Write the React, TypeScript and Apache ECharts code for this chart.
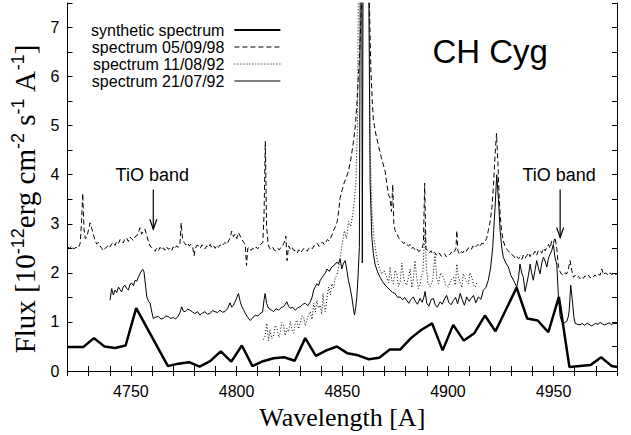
import React, { useEffect, useRef } from 'react';
import * as echarts from 'echarts';

const seriesNames = ['synthetic spectrum', 'spectrum 05/09/98', 'spectrum 11/08/92', 'spectrum 21/07/92'];

const synthetic: [number, number][] = [
  [4720, 0.49], [4727.5, 0.49], [4732.5, 0.67], [4737.5, 0.5], [4742.5, 0.47], [4747.5, 0.52],
  [4752.5, 1.28], [4767.5, 0.1], [4772.5, 0.15], [4777.5, 0.18], [4782.5, 0.09], [4787.5, 0.2],
  [4792.5, 0.4], [4797.5, 0.19], [4802.5, 0.52], [4807.5, 0.1], [4812.5, 0.2], [4817.5, 0.26],
  [4822.5, 0.28], [4827.5, 0.21], [4832.5, 0.67], [4837.5, 0.31], [4842.5, 0.42], [4847.5, 0.5],
  [4852.5, 0.36], [4857.5, 0.32], [4862.5, 0.24], [4867.5, 0.27], [4872.5, 0.44], [4877.5, 0.44],
  [4882.5, 0.67], [4887.5, 0.84], [4892.5, 0.97], [4897.5, 0.42], [4902.5, 0.94], [4907.5, 0.62],
  [4912.5, 0.77], [4917.5, 1.13], [4922.5, 0.81], [4932.5, 1.7], [4937.5, 1.07], [4942.5, 1.03],
  [4947.5, 0.79], [4952.5, 1.51], [4957.5, 0.08], [4962.5, 0.1], [4967.5, 0.12], [4972.5, 0.28],
  [4977.5, 0.1], [4980, 0.08],
];

const spec980905: [number, number][] = [
  [4720, 2.53], [4721, 2.5], [4722, 2.55], [4723, 2.49], [4724, 2.52], [4725, 2.5], [4726, 2.6],
  [4726.6, 3.0], [4727.2, 3.62], [4727.8, 2.9], [4728.4, 2.7], [4729.1, 2.72], [4729.8, 2.85],
  [4730.7, 3.02], [4731.4, 2.92], [4732.2, 2.79], [4733, 2.66], [4733.8, 2.59], [4734.6, 2.62],
  [4735.4, 2.55], [4736.2, 2.5], [4737, 2.45], [4737.8, 2.5], [4738.5, 2.52], [4739.3, 2.57],
  [4740.1, 2.53], [4740.9, 2.59], [4741.7, 2.62], [4742.5, 2.56], [4743.3, 2.64], [4744.1, 2.6],
  [4744.9, 2.68], [4745.6, 2.65], [4746.4, 2.61], [4747.2, 2.7], [4748, 2.71], [4748.8, 2.64],
  [4749.6, 2.73], [4750.4, 2.69], [4751.2, 2.66], [4752, 2.74], [4752.7, 2.75], [4753.5, 2.82],
  [4754.3, 2.92], [4755.1, 2.79], [4755.8, 2.84], [4756.6, 2.89], [4757.4, 2.78], [4758.2, 2.65],
  [4759, 2.55], [4759.8, 2.52], [4760.6, 2.48], [4761.4, 2.44], [4762.2, 2.5], [4763, 2.45],
  [4763.8, 2.52], [4764.6, 2.47], [4765.3, 2.51], [4766.1, 2.46], [4766.9, 2.53], [4767.7, 2.48],
  [4768.5, 2.5], [4769.3, 2.45], [4770, 2.53], [4770.8, 2.49], [4771.6, 2.55], [4772.4, 2.52],
  [4773.2, 2.58], [4773.8, 3.02], [4774.4, 2.7], [4775.2, 2.62], [4776, 2.57], [4776.8, 2.61],
  [4777.6, 2.55], [4778.4, 2.58], [4779.2, 2.53], [4779.9, 2.35], [4780.5, 2.5], [4781.2, 2.56],
  [4782, 2.55], [4782.8, 2.5], [4783.6, 2.57], [4784.3, 2.53], [4785.1, 2.49], [4785.9, 2.55],
  [4786.7, 2.52], [4787.5, 2.58], [4788.3, 2.51], [4789.1, 2.55], [4789.9, 2.5], [4790.6, 2.56],
  [4791.4, 2.52], [4792.2, 2.57], [4793, 2.54], [4793.8, 2.59], [4794.6, 2.62], [4795.4, 2.58],
  [4796.2, 2.65], [4797, 2.72], [4797.7, 2.85], [4798.5, 2.74], [4799.3, 2.79], [4800.1, 2.7],
  [4800.9, 2.82], [4801.7, 2.75], [4802.5, 2.69], [4803.3, 2.62], [4804.1, 2.59], [4804.7, 2.15],
  [4805.3, 2.5], [4806.1, 2.52], [4806.9, 2.46], [4807.6, 2.5], [4808.4, 2.48], [4809.2, 2.53],
  [4810, 2.49], [4810.8, 2.55], [4811.6, 2.59], [4812.4, 2.62], [4813, 3.2], [4813.6, 4.68],
  [4814.2, 2.95], [4814.9, 2.6], [4815.6, 2.5], [4816.3, 2.48], [4817.1, 2.52], [4817.9, 2.46],
  [4818.6, 2.45], [4819.4, 2.5], [4820.2, 2.47], [4821, 2.52], [4821.8, 2.56], [4822.6, 2.62],
  [4823.3, 2.75], [4823.9, 2.25], [4824.6, 2.55], [4825.4, 2.48], [4826.2, 2.52], [4827, 2.46],
  [4827.8, 2.45], [4828.6, 2.4], [4829.4, 2.47], [4830.2, 2.41], [4831, 2.45], [4831.8, 2.5],
  [4832.6, 2.48], [4833.4, 2.44], [4834.2, 2.5], [4835, 2.52], [4835.8, 2.49], [4836.6, 2.55],
  [4837.4, 2.55], [4838.2, 2.6], [4839, 2.54], [4839.8, 2.59], [4840.6, 2.63], [4841.4, 2.58],
  [4842.2, 2.62], [4843, 2.68], [4843.8, 2.65], [4844.6, 2.72], [4845.4, 2.8], [4846.1, 2.89],
  [4846.9, 2.95], [4847.7, 3.06], [4848.4, 3.3], [4849, 3.53], [4850, 3.7], [4851, 3.85],
  [4852, 3.95], [4852.9, 4.07], [4854, 4.3], [4855.3, 4.67], [4856.2, 5.0], [4856.9, 5.41],
  [4857.5, 5.9], [4858.1, 6.35], [4858.7, 7.0], [4859.2, 7.56], [4860, 9.5], [4862.2, 9.5],
  [4862.8, 7.56], [4863.5, 6.2], [4864.2, 5.5], [4864.7, 5.14], [4865.8, 4.85], [4867.1, 4.6],
  [4868.5, 4.35], [4870.3, 4.07], [4871, 3.85], [4871.8, 3.6], [4872.6, 3.53], [4873.3, 3.25],
  [4873.9, 3.8], [4874.4, 3.0], [4875, 2.86], [4875.8, 2.8], [4876.6, 2.72], [4877.4, 2.68],
  [4878.2, 2.64], [4879, 2.6], [4879.7, 2.62], [4880.5, 2.58], [4881.3, 2.55], [4882.1, 2.58],
  [4882.8, 2.5], [4883.6, 2.52], [4884.4, 2.47], [4885.2, 2.5], [4886, 2.44], [4886.8, 2.45],
  [4887.6, 2.48], [4888.4, 2.6], [4889, 3.83], [4889.6, 2.5], [4890.4, 2.44], [4891.2, 2.41],
  [4892, 2.45], [4892.8, 2.38], [4893.6, 2.42], [4894.4, 2.38], [4895.2, 2.35], [4896, 2.4],
  [4896.8, 2.34], [4897.6, 2.35], [4898.4, 2.39], [4899.2, 2.33], [4900, 2.38], [4900.8, 2.37],
  [4901.6, 2.42], [4902.4, 2.39], [4903.2, 2.45], [4903.8, 2.5], [4904.2, 2.86], [4904.7, 2.45],
  [4905.5, 2.38], [4906.3, 2.43], [4907.1, 2.41], [4907.9, 2.47], [4908.7, 2.44], [4909.5, 2.5],
  [4910.3, 2.52], [4911.1, 2.48], [4911.9, 2.55], [4912.7, 2.51], [4913.5, 2.55], [4914.3, 2.58],
  [4915.1, 2.53], [4915.9, 2.6], [4916.7, 2.59], [4917.5, 2.64], [4918.3, 2.7], [4919.1, 2.86],
  [4920, 3.05], [4920.8, 3.33], [4921.6, 3.8], [4922.3, 4.4], [4923, 4.84], [4923.7, 4.2],
  [4924.2, 3.6], [4924.7, 3.19], [4925.4, 2.85], [4926.2, 2.65], [4927, 2.55], [4927.8, 2.48],
  [4928.6, 2.45], [4929.4, 2.4], [4930.2, 2.37], [4931, 2.35], [4931.8, 2.3], [4932.6, 2.34],
  [4933.4, 2.29], [4934.1, 2.32], [4934.9, 2.27], [4935.7, 2.36], [4936.5, 2.3], [4937.3, 2.35],
  [4938.1, 2.41], [4938.9, 2.33], [4939.6, 2.4], [4940.4, 2.38], [4941.2, 2.44], [4942, 2.36],
  [4942.8, 2.46], [4943.6, 2.45], [4944.4, 2.4], [4945.2, 2.5], [4946, 2.45], [4946.8, 2.52],
  [4947.6, 2.58], [4948.3, 2.5], [4949.1, 2.65], [4949.9, 2.6], [4950.7, 2.72], [4951.5, 2.5],
  [4952.3, 2.11], [4953.1, 2.02], [4953.9, 1.97], [4954.6, 1.95], [4955.4, 2.0], [4956.2, 1.98],
  [4957, 2.08], [4957.8, 2.25], [4958.6, 2.05], [4959.4, 1.91], [4960.2, 1.95], [4961, 1.9],
  [4961.8, 1.93], [4962.5, 1.88], [4963.3, 1.92], [4964.1, 1.89], [4964.9, 1.94], [4965.7, 1.91],
  [4966.5, 1.95], [4967.3, 1.9], [4968.1, 1.93], [4968.8, 1.91], [4969.6, 1.96], [4970.4, 1.92],
  [4971.2, 1.97], [4972, 1.95], [4972.8, 2.08], [4973.6, 1.96], [4974.4, 2.0], [4975.2, 1.98],
  [4976, 1.95], [4976.8, 2.0], [4977.6, 1.96], [4978.4, 2.01], [4979.2, 1.97], [4980, 1.98],
];

const spec920811: [number, number][] = [
  [4812.7, 0.64], [4813.5, 0.71], [4814.3, 0.97], [4815.1, 0.62], [4815.8, 0.84], [4816.6, 0.66],
  [4817.5, 0.71], [4818.3, 0.93], [4819.1, 0.87], [4820, 0.68], [4820.6, 0.77], [4821.4, 0.99],
  [4822.2, 0.94], [4823, 0.72], [4823.8, 0.87], [4824.6, 0.8], [4825.4, 1.01], [4826.2, 0.84],
  [4827, 0.77], [4827.8, 0.98], [4828.5, 1.04], [4829.3, 0.86], [4830.1, 0.97], [4830.9, 1.12],
  [4831.7, 1.11], [4832.5, 0.92], [4833.3, 1.04], [4834.1, 1.15], [4834.9, 1.21], [4835.7, 1.05],
  [4836.5, 1.38], [4837.3, 1.2], [4838, 1.44], [4838.8, 1.28], [4839.6, 1.34], [4840.3, 1.15],
  [4840.9, 1.58], [4841.5, 1.3], [4842, 1.21], [4842.8, 1.5], [4843.6, 1.71], [4844.4, 1.55],
  [4845.1, 1.78], [4845.9, 1.7], [4846.7, 1.91], [4847.5, 1.95], [4848.3, 2.12], [4849.2, 2.35],
  [4850, 2.6], [4851, 2.86], [4852, 2.7], [4853, 3.05], [4854, 2.95], [4855, 3.2], [4855.8, 3.5],
  [4856.5, 3.9], [4857.2, 5.0], [4857.8, 9], [4862.5, 9], [4863.2, 4.5], [4864, 3.3], [4865, 2.7],
  [4866.3, 2.32], [4867.5, 2.1], [4868.7, 1.98], [4869.8, 2.05], [4871.1, 1.91], [4872, 1.8],
  [4872.6, 2.12], [4873.4, 1.85], [4874.2, 1.78], [4875, 2.05], [4875.8, 1.98], [4876.6, 1.72],
  [4877.4, 1.81], [4878.2, 2.2], [4879, 1.91], [4879.8, 1.8], [4880.5, 1.75], [4881.3, 1.9],
  [4882.1, 2.08], [4882.9, 1.7], [4883.6, 1.85], [4884.4, 2.25], [4885.2, 1.91], [4886, 1.68],
  [4886.8, 1.75], [4887.5, 1.95], [4888.1, 1.98], [4888.7, 2.5], [4889.2, 2.9], [4889.7, 2.2],
  [4890.5, 1.8], [4891.6, 1.71], [4892.8, 1.85], [4893.9, 2.38], [4894.7, 1.9], [4895.5, 1.78],
  [4896.6, 2.0], [4897.8, 1.91], [4899, 1.75], [4900.2, 1.71], [4901.4, 1.85], [4902.6, 1.91],
  [4903.5, 1.75], [4904.2, 2.18], [4905, 1.9], [4905.8, 1.81], [4906.6, 1.7], [4907.3, 1.98],
  [4908.5, 1.85], [4909.7, 1.78], [4910.5, 2.0], [4911.3, 1.91], [4912.1, 1.76], [4912.9, 1.71],
  [4913.8, 1.8],
];

const spec920721: [number, number][] = [
  [4740.1, 1.44], [4740.9, 1.68], [4741.7, 1.55], [4742.5, 1.65], [4743.3, 1.6], [4744.1, 1.71],
  [4744.9, 1.66], [4745.6, 1.61], [4746.4, 1.72], [4747.2, 1.75], [4748, 1.68], [4748.8, 1.65],
  [4749.6, 1.77], [4750.4, 1.79], [4751.2, 1.74], [4752, 1.85], [4752.8, 1.83], [4753.5, 1.91],
  [4754.3, 1.98], [4755.1, 2.05], [4755.7, 2.07], [4756.2, 2.02], [4756.9, 1.75], [4757.5, 1.51],
  [4758.3, 1.42], [4759.1, 1.38], [4759.9, 1.2], [4760.6, 1.07], [4761.8, 1.1], [4763, 1.11],
  [4764.2, 1.06], [4765.3, 1.07], [4766.5, 1.12], [4767.7, 1.11], [4768.8, 1.07], [4770, 1.09],
  [4771.2, 1.06], [4772.4, 1.12], [4773.3, 1.2], [4774, 1.31], [4774.8, 1.22], [4775.6, 1.21],
  [4776.8, 1.26], [4778, 1.24], [4779.2, 1.2], [4780.3, 1.17], [4781.5, 1.21], [4782.7, 1.14],
  [4783.8, 1.18], [4785, 1.21], [4786.2, 1.16], [4787.4, 1.17], [4788.6, 1.23], [4789.8, 1.21],
  [4791, 1.19], [4792.1, 1.24], [4793.3, 1.2], [4794.5, 1.21], [4795.7, 1.27], [4796.9, 1.39],
  [4797.7, 1.3], [4798.5, 1.34], [4799.7, 1.45], [4800.9, 1.58], [4801.7, 1.42], [4802.5, 1.31],
  [4803.3, 1.25], [4804.1, 1.17], [4805.2, 1.1], [4806.4, 1.03], [4807.6, 1.08], [4808.8, 1.14],
  [4810, 1.12], [4811.1, 1.17], [4812.3, 1.2], [4813, 1.45], [4813.5, 1.58], [4814.2, 1.38],
  [4815.1, 1.28], [4816.3, 1.25], [4817.5, 1.21], [4818.7, 1.27], [4819.9, 1.24], [4821.1, 1.29],
  [4822.2, 1.31], [4823, 1.36], [4823.8, 1.41], [4824.6, 1.32], [4825.4, 1.28], [4826.6, 1.3],
  [4827.8, 1.24], [4829, 1.29], [4830.1, 1.31], [4831.3, 1.36], [4832.5, 1.38], [4833.7, 1.33],
  [4834.9, 1.41], [4835.7, 1.5], [4836.5, 1.65], [4837.3, 1.72], [4838, 1.78], [4838.8, 1.74],
  [4839.6, 1.85], [4840.4, 1.9], [4841.2, 1.95], [4842, 2.0], [4842.8, 2.08], [4843.9, 2.03],
  [4845.1, 2.12], [4846.3, 2.16], [4847.5, 2.22], [4848.2, 2.18], [4849, 2.28], [4849.8, 2.08],
  [4850.6, 2.2], [4851.4, 2.25], [4852.2, 2.05], [4852.9, 1.85], [4853.7, 1.7], [4854.5, 1.51],
  [4855.2, 1.3], [4855.8, 1.14], [4856.4, 1.3], [4856.9, 1.51], [4857.5, 1.95], [4858.1, 2.52],
  [4858.6, 9], [4859.2, 9], [4859.5, 2.2], [4859.9, 9], [4862.4, 9], [4863.2, 3.8], [4864, 2.72],
  [4864.7, 2.4], [4865.5, 2.18], [4866.7, 2.02], [4867.9, 1.91], [4869.1, 1.82], [4870.3, 1.75],
  [4871.5, 1.7], [4872.6, 1.65], [4873.8, 1.6], [4875, 1.58], [4876.2, 1.5], [4877.4, 1.51],
  [4878.6, 1.45], [4879.5, 1.5], [4880.5, 1.44], [4881.5, 1.38], [4882.5, 1.46], [4883.6, 1.51],
  [4884.6, 1.42], [4885.6, 1.36], [4886.8, 1.48], [4887.8, 1.4], [4888.6, 1.5], [4889.2, 1.62],
  [4890, 1.38], [4891, 1.32], [4892, 1.45], [4893.1, 1.48], [4894, 1.35], [4895, 1.3],
  [4896.3, 1.41], [4897.3, 1.36], [4898.4, 1.47], [4899.4, 1.54], [4900.4, 1.4], [4901.5, 1.35],
  [4902.6, 1.44], [4903.6, 1.5], [4904.6, 1.37], [4905.8, 1.58], [4906.8, 1.45], [4907.8, 1.34],
  [4908.9, 1.51], [4910, 1.42], [4911, 1.48], [4912.1, 1.54], [4913.2, 1.39], [4914.4, 1.51],
  [4915.6, 1.46], [4916.8, 1.65], [4918, 1.7], [4919.1, 1.85], [4920.2, 2.1], [4921.2, 2.52],
  [4922.3, 3.33], [4923.1, 4.0], [4923.9, 3.5], [4924.7, 2.86], [4925.5, 2.5], [4926.2, 2.32],
  [4927.4, 2.2], [4928.6, 2.12], [4929.8, 1.95], [4931, 1.85], [4931.8, 1.78], [4932.6, 1.71],
  [4933.4, 1.9], [4934.1, 2.18], [4934.9, 2.0], [4935.7, 1.91], [4936.5, 1.62], [4937.3, 1.78],
  [4938.1, 1.95], [4938.9, 2.18], [4939.6, 2.0], [4940.4, 1.85], [4941.2, 2.05], [4942, 2.25],
  [4942.8, 2.1], [4943.6, 1.98], [4944.4, 2.2], [4945.2, 2.32], [4946, 2.24], [4946.8, 2.12],
  [4947.6, 2.3], [4948.3, 2.38], [4949.1, 2.45], [4949.9, 2.58], [4950.7, 2.3], [4951.5, 2.18],
  [4952.3, 1.51], [4953.1, 1.11], [4953.9, 1.0], [4954.6, 0.97], [4955.4, 0.99], [4956.2, 1.01],
  [4956.9, 1.1], [4957.4, 1.24], [4958.1, 1.75], [4958.6, 1.55], [4959, 1.38], [4959.6, 1.1],
  [4960.2, 0.97], [4961.4, 0.95], [4962.5, 0.94], [4963.6, 0.97], [4964.6, 0.93], [4965.7, 0.97],
  [4966.8, 0.95], [4967.8, 0.92], [4968.8, 0.94], [4969.9, 0.97], [4971, 0.95], [4972, 0.99],
  [4973.1, 0.96], [4974.1, 0.94], [4975.2, 0.96], [4976.3, 0.98], [4977.3, 0.95], [4978.6, 0.97],
  [4980, 0.97],
];

// annotations: [wavelength, arrow tail flux, arrow tip flux]
const tioArrows: [number, number, number][] = [
  [4760.6, 3.7, 2.89],
  [4953.1, 3.7, 2.72],
];
const titlePos: [number, number] = [4920, 6.51];

const SANS = 'Liberation Sans, Arial, sans-serif';
const SERIF = 'Liberation Serif, Times New Roman, serif';

export default function App() {
  const ref = useRef<HTMLDivElement>(null);
  useEffect(() => {
    const chart = echarts.init(ref.current!, null, { renderer: 'svg' });
    const axisCommon = {
      axisLine: { show: true, lineStyle: { color: '#000', width: 1 } },
      axisTick: { show: true, inside: true, length: 5, lineStyle: { color: '#000' } },
      splitLine: { show: false },
    };
    const option: any = {
      animation: false,
      backgroundColor: '#fff',
      grid: { left: 67.5, right: 14, top: 3, bottom: 60 },
      legend: {
        data: [
          { name: seriesNames[0] },
          { name: seriesNames[1], lineStyle: { width: 1 } },
          { name: seriesNames[2], lineStyle: { width: 1 } },
          { name: seriesNames[3], lineStyle: { width: 1 } },
        ],
        orient: 'vertical',
        left: 86,
        top: 17,
        align: 'right',
        itemWidth: 46,
        itemHeight: 10,
        itemGap: 1,
        itemStyle: { opacity: 0, borderWidth: 0 },
        textStyle: { fontFamily: SANS, fontSize: 16, color: '#000', lineHeight: 16, padding: [0, 5, 0, 0] },
      },
      xAxis: [
        {
          ...axisCommon,
          type: 'value',
          position: 'bottom',
          min: 4720,
          max: 4980,
          interval: 10,
          axisLabel: {
            color: '#000',
            fontFamily: SANS,
            fontSize: 16,
            margin: 12,
            formatter: (v: number) => (v % 50 === 0 ? String(v) : ''),
          },
          name: 'Wavelength [A]',
          nameLocation: 'middle',
          nameGap: 33,
          nameTextStyle: { fontFamily: SERIF, fontSize: 26, color: '#000' },
        },
        {
          ...axisCommon,
          type: 'value',
          position: 'top',
          min: 4720,
          max: 4980,
          interval: 10,
          axisLabel: { show: false },
        },
      ],
      yAxis: [
        {
          ...axisCommon,
          type: 'value',
          position: 'left',
          min: 0,
          max: 7.5,
          interval: 0.5,
          axisLabel: {
            color: '#000',
            fontFamily: SANS,
            fontSize: 16,
            margin: 8,
            formatter: (v: number) => (Math.abs(v - Math.round(v)) < 1e-6 ? String(Math.round(v)) : ''),
          },
          name: '{m|Flux [10}{s|-12}{m|erg cm}{s|-2}{m| s}{s|-1}{m| A}{s|-1}{m|]}',
          nameLocation: 'middle',
          nameGap: 25,
          nameTextStyle: {
            color: '#000',
            padding: [0, 24, 0, 0],
            rich: {
              m: { fontFamily: SERIF, fontSize: 29, lineHeight: 32, color: '#000' },
              s: { fontFamily: SANS, fontSize: 18, lineHeight: 18, verticalAlign: 'top', color: '#000' },
            },
          },
        },
        {
          ...axisCommon,
          type: 'value',
          position: 'right',
          min: 0,
          max: 7.5,
          interval: 0.5,
          axisLabel: { show: false },
        },
      ],
      series: [
        {
          name: seriesNames[0],
          type: 'line',
          data: synthetic,
          symbol: 'none',
          z: 5,
          lineStyle: { color: '#000', width: 2.5 },
          itemStyle: { color: '#000' },
        },
        {
          name: seriesNames[1],
          type: 'line',
          data: spec980905,
          symbol: 'none',
          lineStyle: { color: '#000', width: 1, type: [5, 3] },
          itemStyle: { color: '#000' },
        },
        {
          name: seriesNames[2],
          type: 'line',
          data: spec920811,
          symbol: 'none',
          lineStyle: { color: '#000', width: 1, type: [1, 2] },
          itemStyle: { color: '#000' },
        },
        {
          name: seriesNames[3],
          type: 'line',
          data: spec920721,
          symbol: 'none',
          lineStyle: { color: '#000', width: 1 },
          itemStyle: { color: '#000' },
        },
      ],
    };
    chart.setOption(option);

    const graphics: any[] = [];
    tioArrows.forEach(([w, tail, tip]) => {
      const a = chart.convertToPixel({ gridIndex: 0 }, [w, tail]) as number[];
      const b = chart.convertToPixel({ gridIndex: 0 }, [w, tip]) as number[];
      graphics.push({
        type: 'line',
        shape: { x1: a[0], y1: a[1], x2: b[0], y2: b[1] },
        style: { stroke: '#000', lineWidth: 1.2 },
      });
      graphics.push({
        type: 'polyline',
        shape: { points: [[b[0] - 3.5, b[1] - 10], [b[0], b[1]], [b[0] + 3.5, b[1] - 10]] },
        style: { stroke: '#000', lineWidth: 1.2, fill: 'none' },
      });
      graphics.push({
        type: 'text',
        x: a[0] - 1,
        y: a[1] - 14,
        style: {
          text: 'TiO band',
          fontFamily: SANS,
          fontSize: 18,
          fill: '#000',
          align: 'center',
          verticalAlign: 'middle',
        },
      });
    });
    const t = chart.convertToPixel({ gridIndex: 0 }, titlePos) as number[];
    graphics.push({
      type: 'text',
      x: t[0],
      y: t[1],
      style: {
        text: 'CH Cyg',
        fontFamily: SANS,
        fontSize: 33,
        fill: '#000',
        align: 'center',
        verticalAlign: 'middle',
      },
    });
    chart.setOption({ graphic: graphics });

    return () => chart.dispose();
  }, []);
  return (
    <div
      ref={ref}
      style={{ position: 'fixed', left: 0, top: 0, width: 631, height: 435, background: '#fff' }}
    />
  );
}
